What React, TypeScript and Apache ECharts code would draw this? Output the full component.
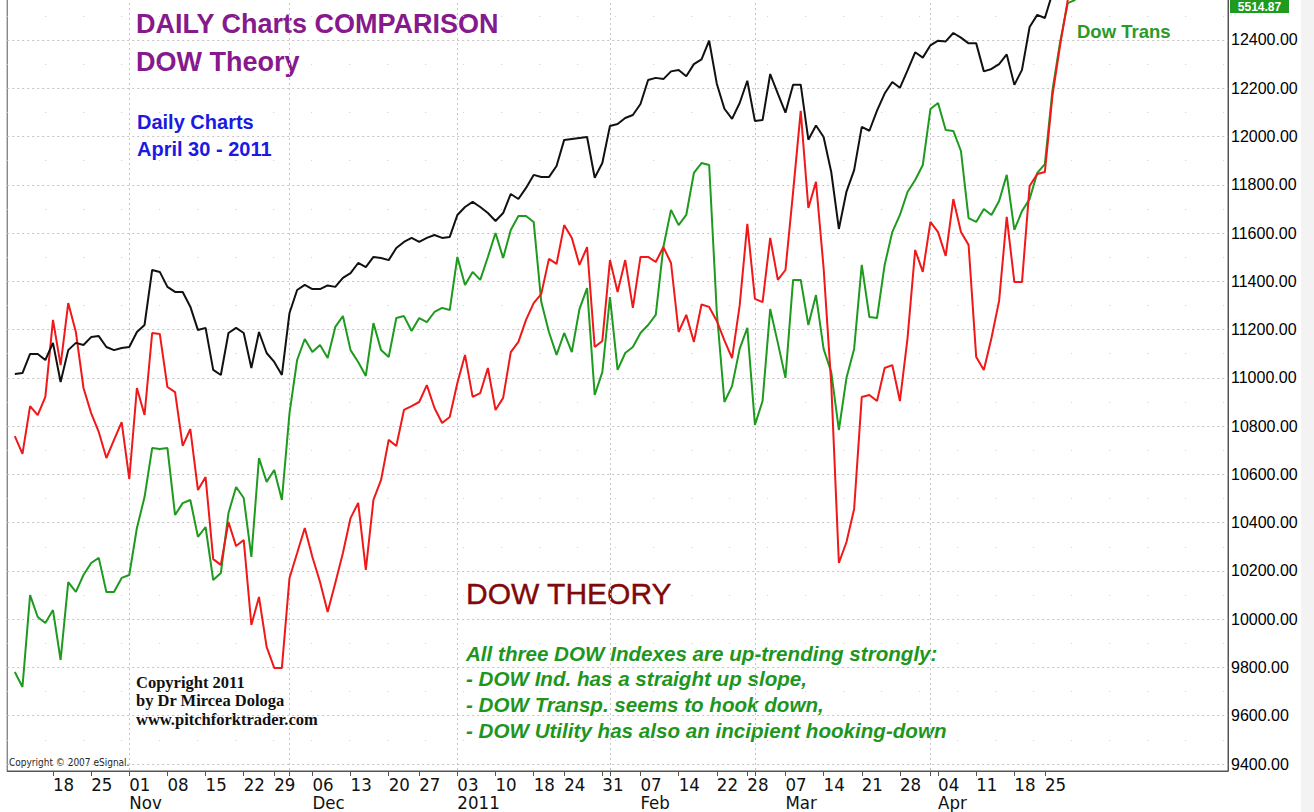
import React, { useEffect, useRef } from 'react';
import * as echarts from 'echarts';

// Calendar of the axis (trading days, NYSE holidays skipped)
const FIRST_DAY = '2010-10-08';
const LAST_DAY = '2011-05-27';
const DATA_START = '2010-10-11';
const HOLIDAYS = ['2010-11-25', '2010-12-24', '2011-01-17', '2011-02-21', '2011-04-22'];
const LABEL_FROM = '2010-10-18';
const LABEL_TO = '2011-04-25';
const MONTH_NAMES = ['2011', 'Feb', 'Mar', 'Apr', 'May', 'Jun', 'Jul', 'Aug', 'Sep', 'Oct', 'Nov', 'Dec'];

// Daily closes from 2010-10-11 to 2011-04-29, in the chart's price-axis units
const dowInd = [
  11016, 11020, 11099, 11099, 11074,
  11145, 10983, 11115, 11145, 11136,
  11169, 11173, 11128, 11115, 11124,
  11128, 11190, 11219, 11447, 11439,
  11377, 11356, 11356, 11295, 11198,
  11207, 11033, 11012, 11186, 11207,
  11186, 11041, 11190, 11103,
  11066, 11012, 11269, 11364, 11385,
  11368, 11368, 11383, 11377, 11414,
  11434, 11476, 11459, 11501, 11497,
  11488, 11538, 11563, 11580,
  11563, 11580, 11592, 11580, 11584,
  11675, 11708, 11729, 11708, 11683,
  11650, 11683, 11762, 11741, 11787,
  11841, 11832, 11832, 11878,
  11986, 11990, 11994, 11998, 11829,
  11890, 12044, 12052, 12077, 12089,
  12135, 12234, 12243, 12238, 12270,
  12276, 12250, 12300, 12320, 12397,
  12219, 12115, 12073, 12139,
  12231, 12064, 12068, 12259, 12178,
  12099, 12215, 12215, 11987, 12046,
  11998, 11853, 11617, 11772, 11861,
  12040, 12024, 12107, 12178, 12226,
  12202, 12274, 12349, 12327, 12378,
  12397, 12394, 12429, 12410, 12386,
  12386, 12270, 12280, 12300, 12340,
  12214, 12276, 12454, 12504,
  12491, 12595, 12690, 12760, 12810,
];

const dowTrans = [
  9781, 9719, 10100, 10009, 9984,
  10038, 9831, 10154, 10113, 10183,
  10233, 10254, 10113, 10113, 10171,
  10183, 10378, 10506, 10709, 10705,
  10709, 10432, 10481, 10494, 10341,
  10382, 10162, 10191, 10440, 10548,
  10502, 10258, 10668, 10569,
  10618, 10494, 10854, 11074, 11161,
  11107, 11136, 11082, 11211, 11256,
  11115, 11066, 11008, 11227, 11115,
  11086, 11248, 11256, 11194,
  11248, 11231, 11273, 11290, 11281,
  11501, 11385, 11439, 11406, 11501,
  11600, 11497, 11613, 11671, 11671,
  11646, 11314, 11190, 11095,
  11186, 11107, 11285, 11372, 10929,
  11024, 11335, 11033, 11103, 11128,
  11186, 11219, 11261, 11542, 11696,
  11633, 11675, 11849, 11890, 11882,
  11273, 10900, 10966, 11120,
  11207, 10805, 10904, 11285, 11145,
  11000, 11406, 11406, 11219, 11343,
  11120, 11024, 10784, 11000, 11120,
  11468, 11252, 11248, 11468, 11604,
  11675, 11770, 11820, 11882, 12114,
  12139, 12027, 12023, 11940, 11662,
  11646, 11700, 11675, 11733, 11841,
  11613, 11691, 11741, 11849,
  11886, 12193, 12392, 12553, 12566,
];

const dowUtil = [
  10759, 10685, 10883, 10846, 10921,
  11240, 11053, 11310, 11190, 10958,
  10854, 10776, 10668, 10743, 10817,
  10581, 10958, 10846, 11186, 11182,
  10962, 10941, 10718, 10788, 10535,
  10589, 10249, 10225, 10403, 10303,
  10328, 9976, 10092, 9885,
  9798, 9798, 10171, 10274, 10378,
  10258, 10154, 10030, 10150, 10274,
  10419, 10482, 10204, 10494, 10577,
  10743, 10718, 10867, 10883,
  10900, 10970, 10875, 10813, 10838,
  10979, 11095, 10921, 10937, 11041,
  10867, 10917, 11107, 11149, 11240,
  11310, 11348, 11493, 11472,
  11633, 11580, 11468, 11542, 11128,
  11153, 11488, 11356, 11488, 11290,
  11501, 11501, 11480, 11542, 11476,
  11190, 11261, 11149, 11304, 11294,
  11236, 11155, 11082, 11300,
  11638, 11327, 11314, 11580, 11406,
  11447, 11770, 12106, 11704, 11812,
  11455, 10975, 10233, 10320, 10457,
  10921, 10929, 10904, 11041, 11053,
  10904, 11165, 11530, 11439, 11646,
  11604, 11505, 11741, 11604, 11551,
  11086, 11033, 11165, 11319, 11667,
  11397, 11397, 11795, 11845,
  11853, 12172, 12379, 12566, 12650,
];

const LAST_TRANS_LABEL = '5514.87';

function tradingDays(): string[] {
  const out: string[] = [];
  const d = new Date(FIRST_DAY + 'T00:00:00Z');
  const end = new Date(LAST_DAY + 'T00:00:00Z').getTime();
  while (d.getTime() <= end) {
    const wd = d.getUTCDay();
    const s = d.toISOString().slice(0, 10);
    if (wd !== 0 && wd !== 6 && HOLIDAYS.indexOf(s) < 0) out.push(s);
    d.setUTCDate(d.getUTCDate() + 1);
  }
  return out;
}

const NARROW = "'Liberation Sans Narrow', 'Arial Narrow', 'DejaVu Sans Condensed', sans-serif";
const SANS = "'Liberation Sans', Arial, sans-serif";
const SERIF = "'Liberation Serif', 'Times New Roman', serif";

export default function App() {
  const ref = useRef<HTMLDivElement>(null);
  useEffect(() => {
    if (!ref.current) return;
    const chart = echarts.init(ref.current, undefined, { renderer: 'svg' });
    const dates = tradingDays();
    const startIdx = dates.indexOf(DATA_START);
    const pad = (arr: number[]) => {
      const res: (number | null)[] = dates.map(() => null);
      arr.forEach((v, k) => { res[startIdx + k] = v; });
      return res;
    };
    const wd = (s: string) => new Date(s + 'T00:00:00Z').getUTCDay();
    const isWeekStart = (i: number) => i > 0 && wd(dates[i]) < wd(dates[i - 1]);
    const isMonthStart = (i: number) => i > 0 && dates[i].slice(5, 7) !== dates[i - 1].slice(5, 7);
    const labelled = (i: number) => isWeekStart(i) && dates[i] >= LABEL_FROM && dates[i] <= LABEL_TO;
    const monthGrid = (i: number) => isMonthStart(i) && dates[i] <= '2011-04-30';

    const grid = '#c4c4c4';
    const green = '#1e961e';
    chart.setOption({
      animation: false,
      backgroundColor: '#ffffff',
      grid: { left: 7.2, right: 86, top: -2, bottom: 41, show: true, borderColor: '#555', borderWidth: 1, containLabel: false, outerBoundsMode: 'none' },
      xAxis: {
        type: 'category',
        data: dates,
        boundaryGap: false,
        axisLine: { show: true, lineStyle: { color: '#555', width: 1 } },
        axisTick: { show: true, length: 5, interval: (i: number) => labelled(i) || monthGrid(i), lineStyle: { color: '#555' } },
        axisLabel: {
          interval: (i: number) => labelled(i),
          align: 'left',
          margin: 4,
          fontSize: 18.5,
          lineHeight: 18.5,
          color: '#111',
          fontFamily: NARROW,
          formatter: (v: string) => {
            const day = v.slice(8, 10);
            const dom = parseInt(day, 10);
            if (dom <= 7) return day + '\n' + MONTH_NAMES[parseInt(v.slice(5, 7), 10) - 1];
            return day;
          },
        },
        splitLine: { show: true, interval: (i: number) => monthGrid(i), lineStyle: { type: [2, 3], color: grid } },
      },
      yAxis: {
        type: 'value',
        position: 'right',
        min: 9371,
        max: 12574,
        minInterval: 200,
        maxInterval: 200,
        axisLine: { show: true, lineStyle: { color: '#555', width: 1 } },
        axisTick: { show: false },
        axisLabel: {
          margin: 3,
          fontSize: 16,
          color: '#000',
          fontFamily: SANS,
          formatter: (v: number) => (Math.abs(v % 200) < 0.01 ? v.toFixed(2) : ''),
        },
        splitLine: { show: true, lineStyle: { type: [2, 3], color: grid } },
        minorTick: { show: false, splitNumber: 2 },
        minorSplitLine: { show: true, lineStyle: { type: [1, 37], color: '#cccccc' } },
      },
      series: [
        { name: 'Dow Trans', type: 'line', data: pad(dowTrans), symbol: 'none', showSymbol: false, clip: true, lineStyle: { color: '#1e9a1e', width: 2 }, z: 2 },
        { name: 'Dow Util', type: 'line', data: pad(dowUtil), symbol: 'none', showSymbol: false, clip: true, lineStyle: { color: '#f01818', width: 2 }, z: 3 },
        { name: 'Dow Ind', type: 'line', data: pad(dowInd), symbol: 'none', showSymbol: false, clip: true, lineStyle: { color: '#111111', width: 2 }, z: 4 },
      ],
      graphic: [
        { type: 'rect', silent: true, shape: { x: 1301, y: 0, width: 13, height: 812 }, style: { fill: '#f3f3f3' } },
        { type: 'rect', shape: { x: 1230, y: -2, width: 59, height: 15 }, style: { fill: '#1e9a1e' }, z: 10 },
        { type: 'text', x: 1259.5, y: 6.5, z: 11, style: { text: LAST_TRANS_LABEL, fill: '#ffffff', fontSize: 12, fontWeight: 'bold', fontFamily: SANS, align: 'center', verticalAlign: 'middle' } },
        { type: 'text', x: 136, y: 24, style: { text: 'DAILY Charts COMPARISON', fill: '#86198c', fontSize: 27, fontWeight: 'bold', fontFamily: SANS, verticalAlign: 'middle' } },
        { type: 'text', x: 136, y: 62, style: { text: 'DOW Theory', fill: '#86198c', fontSize: 27, fontWeight: 'bold', fontFamily: SANS, verticalAlign: 'middle' } },
        { type: 'text', x: 137, y: 122, style: { text: 'Daily Charts', fill: '#1a1ae0', fontSize: 20, fontWeight: 'bold', fontFamily: SANS, verticalAlign: 'middle' } },
        { type: 'text', x: 137, y: 149, style: { text: 'April 30 - 2011', fill: '#1a1ae0', fontSize: 20, fontWeight: 'bold', fontFamily: SANS, verticalAlign: 'middle' } },
        { type: 'text', x: 1077, y: 31, style: { text: 'Dow Trans', fill: '#2a9a2a', fontSize: 18.5, fontWeight: 'bold', fontFamily: SANS, verticalAlign: 'middle' } },
        { type: 'text', x: 466, y: 593, style: { text: 'DOW THEORY', fill: '#800808', fontSize: 30, fontFamily: SANS, verticalAlign: 'middle', stroke: '#800808', lineWidth: 0.4 } },
        { type: 'text', x: 466, y: 653, style: { text: 'All three DOW Indexes are up-trending strongly:', fill: green, fontSize: 20.6, fontWeight: 'bold', fontStyle: 'italic', fontFamily: SANS, verticalAlign: 'middle' } },
        { type: 'text', x: 466, y: 678, style: { text: '- DOW Ind. has a straight up slope,', fill: green, fontSize: 20.6, fontWeight: 'bold', fontStyle: 'italic', fontFamily: SANS, verticalAlign: 'middle' } },
        { type: 'text', x: 466, y: 704, style: { text: '- DOW Transp. seems to hook down,', fill: green, fontSize: 20.6, fontWeight: 'bold', fontStyle: 'italic', fontFamily: SANS, verticalAlign: 'middle' } },
        { type: 'text', x: 466, y: 730, style: { text: '- DOW Utility has also an incipient hooking-down', fill: green, fontSize: 20.6, fontWeight: 'bold', fontStyle: 'italic', fontFamily: SANS, verticalAlign: 'middle' } },
        { type: 'text', x: 136, y: 682, style: { text: 'Copyright 2011', fill: '#111', fontSize: 16.5, fontWeight: 'bold', fontFamily: SERIF, verticalAlign: 'middle' } },
        { type: 'text', x: 136, y: 700.5, style: { text: 'by Dr Mircea Dologa', fill: '#111', fontSize: 16.5, fontWeight: 'bold', fontFamily: SERIF, verticalAlign: 'middle' } },
        { type: 'text', x: 136, y: 719, style: { text: 'www.pitchforktrader.com', fill: '#111', fontSize: 16.5, fontWeight: 'bold', fontFamily: SERIF, verticalAlign: 'middle' } },
        { type: 'text', x: 9, y: 762, style: { text: 'Copyright \u00A9 2007 eSignal.', fill: '#222', fontSize: 10, fontFamily: NARROW, verticalAlign: 'middle' } },
      ],
    });
    return () => chart.dispose();
  }, []);
  return <div ref={ref} style={{ position: 'absolute', left: 0, top: 0, width: 1314, height: 812, background: '#fff' }} />;
}
